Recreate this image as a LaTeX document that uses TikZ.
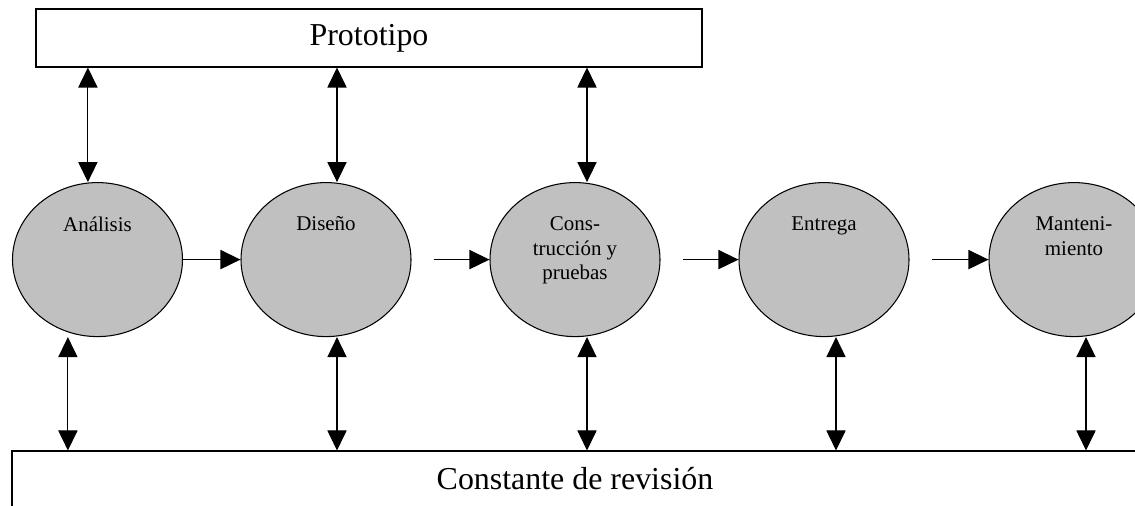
\documentclass[tikz,border=0pt]{standalone}
\usepackage{fontspec}
\setmainfont{Liberation Serif}
\usepackage{xcolor}
\usepackage{tikz}
\usetikzlibrary{arrows.meta,shapes.geometric}

\definecolor{phasegray}{RGB}{192,192,192}

\begin{document}
\begin{tikzpicture}[
        phase/.style={ellipse, draw, fill=phasegray, minimum width=4.25cm, minimum height=3.85cm, inner sep=0pt},
        phasetext/.style={anchor=north, yshift=-0.85cm, inner sep=0pt, align=center, font=\fontsize{14.9}{17.5}\selectfont},
        band/.style={rectangle, draw, fill=white, inner sep=0pt, font=\fontsize{22.7}{27}\selectfont},
        >={Triangle[length=0.5cm,width=0.48cm]},
        line width=0.75pt
    ]
    \useasboundingbox (0,0) rectangle (28.375,12.65);

    % Boxes
    \node[band, minimum width=16.65cm, minimum height=1.45cm] (proto) at (9.225,11.7) {Prototipo};
    \node[band, minimum width=28.15cm, minimum height=1.4cm] (rev) at (14.375,0.675) {Constante de revisión};

    % Phases
    \node[phase, label={[phasetext]north:Análisis}] (ana) at (2.4375,6.16) {};
    \node[phase, label={[phasetext]north:Diseño}] (dis) at (8.15,6.16) {};
    \node[phase, label={[phasetext]north:Cons-\\trucción y\\pruebas}] (con) at (14.375,6.16) {};
    \node[phase, label={[phasetext]north:Entrega}] (ent) at (20.6,6.16) {};
    \node[phase, label={[phasetext]north:Manteni-\\miento}] (man) at (26.85,6.16) {};

    % Flow between phases
    \draw[->] (ana.east) -- (dis.west);
    \draw[->, shorten <=0.55cm] (dis.east) -- (con.west);
    \draw[->, shorten <=0.55cm] (con.east) -- (ent.west);
    \draw[->, shorten <=0.55cm] (ent.east) -- (man.west);

    % Links to the prototype
    \foreach \n/\dx in {ana/-0.24, dis/0.275, con/0.3} {
        \draw[<->] ([xshift=\dx cm]\n.north |- proto.south) -- ([xshift=\dx cm]\n.north);
    }

    % Links to the review band
    \foreach \n/\dx in {ana/-0.74, dis/0.275, con/0.3, ent/0.3, man/0.3} {
        \draw[<->] ([xshift=\dx cm]\n.south) -- ([xshift=\dx cm]\n.south |- rev.north);
    }

\end{tikzpicture}
\end{document}
